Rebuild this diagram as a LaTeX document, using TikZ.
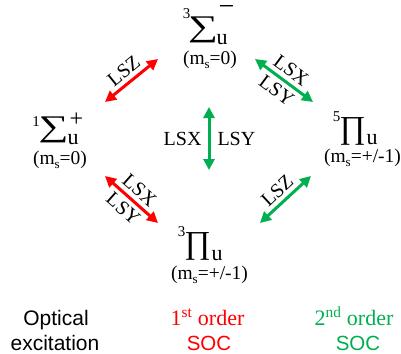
\documentclass[tikz,border=0pt]{standalone}
\usepackage{fontspec}
\setmainfont{Liberation Serif}
\setsansfont{Liberation Sans}
\usetikzlibrary{arrows.meta}
\definecolor{sred}{RGB}{255,0,0}
\definecolor{sgreen}{RGB}{0,176,80}
\newcommand\fs[1]{\fontsize{#1}{#1}\selectfont}
\newcommand\msub{m\raisebox{-0.22em}{\fs{13}s}}
\newcommand\bigsum{\scalebox{1.4}[1]{∑}}
\begin{document}
\begin{tikzpicture}[x=1pt,y=-1pt,
  dbl/.style={line width=3pt,{Triangle[length=11pt,width=11pt]}-{Triangle[length=11pt,width=11pt]}},
  lab/.style={font=\fs{20},inner sep=1pt,text=black},
  gl/.style={inner sep=0pt},
  bigs/.style={gl,font=\fs{30}},
  bigp/.style={gl,font=\fs{32}},
  pre/.style={gl,font=\fs{15}},
  scr/.style={gl,font=\fs{22}},
  ms/.style={gl,font=\fs{19.5}},
  foot/.style={anchor=base,inner sep=0pt}]
\useasboundingbox (0,0) rectangle (401,353);
% top state
\node[bigs] (tS) at (203,30) {\bigsum};
\node[pre] (tP) at (186.5,14) {3};
\node[scr] (tU) at (222,40) {u};
\node[gl,font=\fs{28}] (tM) at (226.5,11) {−};
\node[ms] (tms) at (210,60) {(\msub=0)};
% left state
\node[bigs] (lS) at (53.5,130) {\bigsum};
\node[pre] (lP) at (36,122) {1};
\node[scr] (lU) at (73,140) {u};
\node[gl,font=\fs{24}] (lM) at (76.5,120) {+};
\node[ms] (lms) at (60,160) {(\msub=0)};
% right state
\node[bigp] (rS) at (352.5,131) {∏};
\node[pre] (rP) at (336.5,117) {5};
\node[scr] (rU) at (372,140) {u};
\node[ms] (rms) at (362.5,157.5) {(\msub=+/-1)};
% bottom state
\node[bigp] (bS) at (197.5,246) {∏};
\node[pre] (bP) at (181.5,232) {3};
\node[scr] (bU) at (217,256) {u};
\node[ms] (bms) at (209.5,274.5) {(\msub=+/-1)};
% arrows
\coordinate (a1) at (105,102); \coordinate (a2) at (158,59);
\coordinate (b1) at (255,59);  \coordinate (b2) at (313,102);
\coordinate (c1) at (209,107); \coordinate (c2) at (209,170);
\coordinate (d1) at (105,176); \coordinate (d2) at (158,223);
\coordinate (e1) at (260,223); \coordinate (e2) at (311,176);
\draw[dbl,sred] (a1) -- node[lab,sloped,above=3pt] (lz1) {LSZ} (a2);
\draw[dbl,sgreen] (b1) -- node[lab,sloped,above=3pt] (lx1) {LSX} node[lab,sloped,below=3pt] (ly1) {LSY} (b2);
\draw[dbl,sgreen] (c1) -- node[lab,left=5pt] (lx2) {LSX} node[lab,right=6pt] (ly2) {LSY} (c2);
\draw[dbl,sred] (d1) -- node[lab,sloped,above=3pt] (lx3) {LSX} node[lab,sloped,below=3pt] (ly3) {LSY} (d2);
\draw[dbl,sgreen] (e1) -- node[lab,sloped,above=3pt] (lz2) {LSZ} (e2);
% legend
\node[foot,font=\sffamily\fs{21}] (o1) at (56,325) {Optical};
\node[foot,font=\sffamily\fs{21}] (o2) at (55,350) {excitation};
\node[foot,font=\fs{22},text=sred] (f1) at (207.5,325) {1\textsuperscript{st} order};
\node[foot,font=\sffamily\fs{20.5},text=sred] (f2) at (209,350) {SOC};
\node[foot,font=\fs{22},text=sgreen] (g1) at (354,325) {2\textsuperscript{nd} order};
\node[foot,font=\sffamily\fs{20.5},text=sgreen] (g2) at (358,350) {SOC};
\end{tikzpicture}
\end{document}
